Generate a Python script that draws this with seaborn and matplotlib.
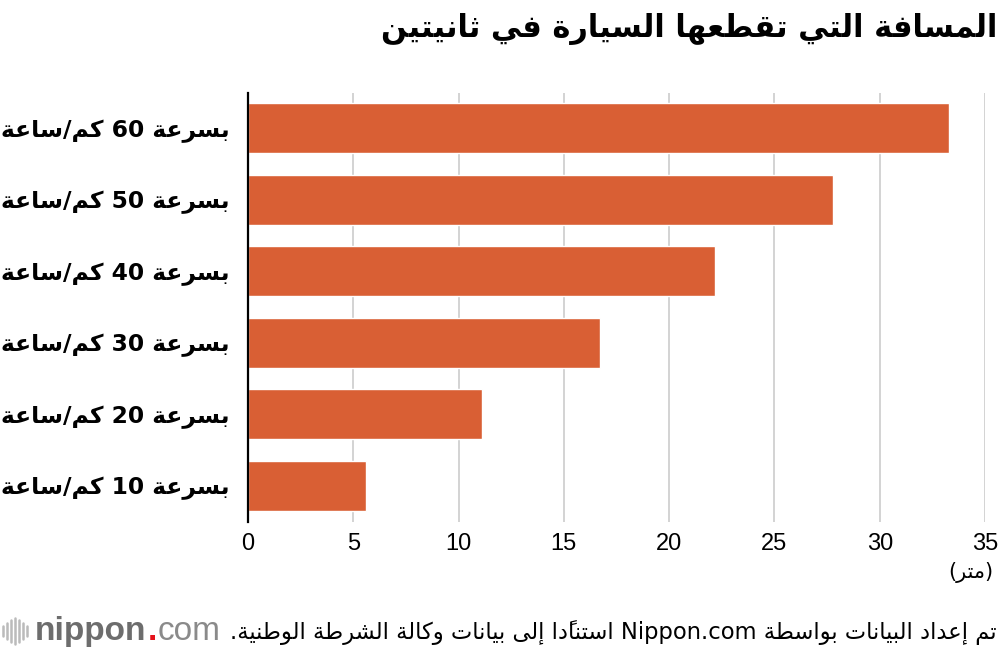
import re
import matplotlib
matplotlib.use("Agg")
import matplotlib.pyplot as plt
from matplotlib.lines import Line2D
import pandas as pd
import seaborn as sns

# data (metres covered in two seconds)
speeds = [60, 50, 40, 30, 20, 10]
distances = [33.3, 27.8, 22.2, 16.7, 11.1, 5.6]
x_ticks = [0, 5, 10, 15, 20, 25, 30, 35]

title = "المسافة التي تقطعها السيارة في ثانيتين"
label_tpl = "بسرعة {} كم/ساعة"
unit = "(متر)"
source = "تم إعداد البيانات بواسطة Nippon.com استنادًا إلى بيانات وكالة الشرطة الوطنية."

# --- minimal arabic shaping: matplotlib has no bidi / joining support ---
FORMS = {
    "\u0627": ("\uFE8D", "\uFE8E", None, None),
    "\u0625": ("\uFE87", "\uFE88", None, None),
    "\u0623": ("\uFE83", "\uFE84", None, None),
    "\u0628": ("\uFE8F", "\uFE90", "\uFE91", "\uFE92"),
    "\u0629": ("\uFE93", "\uFE94", None, None),
    "\u062A": ("\uFE95", "\uFE96", "\uFE97", "\uFE98"),
    "\u062B": ("\uFE99", "\uFE9A", "\uFE9B", "\uFE9C"),
    "\u062F": ("\uFEA9", "\uFEAA", None, None),
    "\u0631": ("\uFEAD", "\uFEAE", None, None),
    "\u0633": ("\uFEB1", "\uFEB2", "\uFEB3", "\uFEB4"),
    "\u0634": ("\uFEB5", "\uFEB6", "\uFEB7", "\uFEB8"),
    "\u0637": ("\uFEC1", "\uFEC2", "\uFEC3", "\uFEC4"),
    "\u0639": ("\uFEC9", "\uFECA", "\uFECB", "\uFECC"),
    "\u0641": ("\uFED1", "\uFED2", "\uFED3", "\uFED4"),
    "\u0642": ("\uFED5", "\uFED6", "\uFED7", "\uFED8"),
    "\u0643": ("\uFED9", "\uFEDA", "\uFEDB", "\uFEDC"),
    "\u0644": ("\uFEDD", "\uFEDE", "\uFEDF", "\uFEE0"),
    "\u0645": ("\uFEE1", "\uFEE2", "\uFEE3", "\uFEE4"),
    "\u0646": ("\uFEE5", "\uFEE6", "\uFEE7", "\uFEE8"),
    "\u0647": ("\uFEE9", "\uFEEA", "\uFEEB", "\uFEEC"),
    "\u0648": ("\uFEED", "\uFEEE", None, None),
    "\u0649": ("\uFEEF", "\uFEF0", None, None),
    "\u064A": ("\uFEF1", "\uFEF2", "\uFEF3", "\uFEF4"),
}
LAM_ALEF = {"\u0627": ("\uFEFB", "\uFEFC"), "\u0625": ("\uFEF9", "\uFEFA"),
            "\u0623": ("\uFEF7", "\uFEF8")}
MARKS = set("\u064B\u064C\u064D\u064E\u064F\u0650\u0651\u0652")
MIRROR = str.maketrans("()", ")(")


def joins_next(c):
    return c in FORMS and FORMS[c][2] is not None


def shape(s):
    res = []
    i, n = 0, len(s)
    while i < n:
        c = s[i]
        if c not in FORMS:
            res.append(c)
            i += 1
            continue
        j = i - 1
        while j >= 0 and s[j] in MARKS:
            j -= 1
        prev = s[j] if j >= 0 else ""
        k = i + 1
        while k < n and s[k] in MARKS:
            k += 1
        nxt = s[k] if k < n else ""
        jp = joins_next(prev)
        if c == "\u0644" and nxt in LAM_ALEF:
            res.append(LAM_ALEF[nxt][1 if jp else 0])
            res.extend(s[i + 1:k])
            i = k + 1
            continue
        jn = joins_next(c) and nxt in FORMS
        iso, fin, ini, med = FORMS[c]
        res.append(med if jp and jn else fin if jp else ini if jn else iso)
        i += 1
    return "".join(res)


def marks_after_base(s):
    out = list(s)
    i = 0
    while i < len(out) - 1:
        if out[i] in MARKS:
            out[i], out[i + 1] = out[i + 1], out[i]
            i += 2
        else:
            i += 1
    return "".join(out)


def ar(s):
    s = shape(s)
    tokens = re.findall(r"[A-Za-z0-9]+(?:\.[A-Za-z0-9]+)*|[^A-Za-z0-9]+", s)
    out = []
    for t in reversed(tokens):
        if re.match(r"[A-Za-z0-9]", t):
            out.append(t)
        else:
            out.append(marks_after_base(t[::-1].translate(MIRROR)))
    return "".join(out)


df = pd.DataFrame({
    "label": [ar(label_tpl.format(s)) for s in speeds],
    "distance": distances,
})

sns.set_style("white")
plt.rcParams["font.family"] = ["DejaVu Sans"]

fig = plt.figure(figsize=(10, 6.52), dpi=100)
ax = fig.add_axes([0.248, 1 - 522 / 652, 0.737, (522 - 93) / 652])

sns.barplot(data=df, x="distance", y="label", orient="h", color="#d95f34",
            width=0.7, saturation=1, ax=ax, zorder=2)

ax.set_xlim(0, 35)
ax.set_ylim(5.51, -0.49)
ax.set_xticks(x_ticks)
ax.set_xticklabels([str(t) for t in x_ticks], family="Liberation Sans",
                   fontsize=17, color="black")
ax.grid(axis="x", color="#cccccc", linewidth=1.2, zorder=0)
ax.grid(axis="y", visible=False)
ax.set_axisbelow(True)
for side in ["top", "right", "bottom"]:
    ax.spines[side].set_visible(False)
ax.spines["left"].set_color("black")
ax.spines["left"].set_linewidth(1.6)
ax.spines["left"].set_zorder(3)
ax.tick_params(axis="both", length=0)
ax.tick_params(axis="x", pad=8)
ax.tick_params(axis="y", pad=13)
for lab in ax.get_yticklabels():
    lab.set_fontsize(16.8)
    lab.set_fontweight("bold")
    lab.set_color("black")
ax.set_xlabel("")
ax.set_ylabel("")

fig.text(0.997, 0.956, ar(title), ha="right", va="center", fontsize=22,
         fontweight="bold", color="black")
fig.text(0.993, 0.122, ar(unit), ha="right", va="center", fontsize=15,
         color="black")
fig.text(0.997, 0.030, ar(source), ha="right", va="center", fontsize=16.3,
         color="black")

# nippon.com logo, bottom left
for k, h in enumerate([0.35, 0.55, 0.75, 0.9, 0.75, 0.55, 0.35]):
    x = 0.003 + k * 0.004
    fig.add_artist(Line2D([x, x], [0.032 - 0.022 * h, 0.032 + 0.022 * h],
                          color="#bbbbbb", linewidth=1.8))
fig.canvas.draw()
r = fig.canvas.get_renderer()
t1 = fig.text(0.035, 0.032, "nippon", ha="left", va="center", fontsize=24,
              fontweight="bold", color="#6d6d6d", family="Liberation Sans")
x1 = fig.transFigure.inverted().transform(t1.get_window_extent(r))[1][0]
t2 = fig.text(x1 + 0.001, 0.032, ".", ha="left", va="center", fontsize=24,
              fontweight="bold", color="#e5121b", family="Liberation Sans")
x2 = fig.transFigure.inverted().transform(t2.get_window_extent(r))[1][0]
fig.text(x2 + 0.001, 0.032, "com", ha="left", va="center", fontsize=24,
         color="#8a8a8a", family="Liberation Sans")

fig.savefig("out.png", dpi=100)
